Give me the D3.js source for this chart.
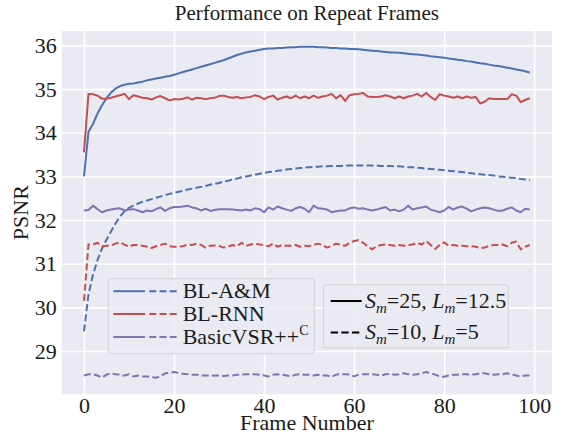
<!DOCTYPE html>
<html lang="en">
<head>
<meta charset="utf-8">
<title>Performance on Repeat Frames</title>
<script src="https://d3js.org/d3.v7.min.js"></script>
<style>
  body { margin: 0; background: #fff; }
  svg { display: block; font-family: "Liberation Serif", "Times New Roman", serif; }
  .grid line { stroke: #fff; stroke-width: 1.6; }
  .grid path { display: none; }
  .ticks text { fill: #1a1a1a; }
</style>
</head>
<body>
<script>
// frame index on the x axis
var frames = d3.range(100);

// BL-A&M
var amSolid = [33.00,34.02,34.20,34.44,34.63,34.79,34.92,35.01,35.07,35.10,
  35.12,35.13,35.15,35.17,35.20,35.22,35.24,35.26,35.28,35.30,
  35.33,35.36,35.39,35.42,35.45,35.48,35.51,35.54,35.57,35.60,
  35.63,35.66,35.70,35.74,35.78,35.81,35.84,35.86,35.88,35.90,
  35.92,35.93,35.93,35.94,35.94,35.95,35.96,35.96,35.97,35.97,
  35.97,35.97,35.96,35.96,35.95,35.94,35.94,35.93,35.93,35.92,
  35.92,35.91,35.90,35.89,35.88,35.87,35.86,35.85,35.84,35.84,
  35.83,35.82,35.81,35.80,35.79,35.78,35.77,35.75,35.74,35.73,
  35.72,35.70,35.69,35.67,35.66,35.64,35.63,35.61,35.59,35.58,
  35.56,35.54,35.53,35.51,35.49,35.47,35.45,35.43,35.41,35.38];
var amDashed = [29.45,30.30,30.75,31.08,31.35,31.55,31.74,31.92,32.08,32.20,
  32.28,32.33,32.38,32.42,32.45,32.48,32.51,32.54,32.57,32.60,
  32.62,32.65,32.67,32.70,32.72,32.74,32.76,32.78,32.81,32.83,
  32.85,32.88,32.90,32.93,32.95,32.98,33.00,33.02,33.04,33.06,
  33.08,33.10,33.11,33.13,33.14,33.16,33.17,33.18,33.19,33.20,
  33.21,33.22,33.22,33.23,33.23,33.24,33.24,33.24,33.25,33.25,
  33.25,33.25,33.25,33.25,33.25,33.25,33.24,33.24,33.24,33.23,
  33.23,33.22,33.21,33.21,33.20,33.19,33.18,33.17,33.16,33.15,
  33.14,33.13,33.12,33.11,33.10,33.08,33.07,33.06,33.05,33.04,
  33.03,33.02,33.00,32.99,32.98,32.97,32.96,32.94,32.93,32.92];

// BL-RNN
var rnnSolid = [33.55,34.89,34.88,34.85,34.78,34.78,34.80,34.83,34.86,34.89,
  34.77,34.86,34.83,34.80,34.79,34.76,34.81,34.84,34.79,34.74,
  34.77,34.76,34.78,34.81,34.76,34.80,34.79,34.77,34.79,34.80,
  34.84,34.85,34.82,34.80,34.82,34.79,34.81,34.82,34.86,34.83,
  34.77,34.82,34.85,34.76,34.80,34.83,34.79,34.85,34.79,34.83,
  34.79,34.85,34.80,34.83,34.85,34.89,34.79,34.86,34.73,34.86,
  34.88,34.89,34.91,34.83,34.82,34.82,34.83,34.86,34.83,34.79,
  34.83,34.79,34.83,34.85,34.89,34.83,34.91,34.82,34.75,34.88,
  34.85,34.83,34.80,34.83,34.79,34.83,34.80,34.82,34.67,34.71,
  34.79,34.77,34.77,34.77,34.77,34.88,34.85,34.70,34.75,34.79];
var rnnDashed = [30.15,31.44,31.44,31.48,31.40,31.41,31.42,31.46,31.49,31.44,
  31.39,31.43,31.43,31.41,31.39,31.36,31.40,31.43,31.46,31.40,
  31.39,31.39,31.40,31.44,31.43,31.46,31.43,31.37,31.41,31.42,
  31.41,31.37,31.39,31.43,31.40,31.48,31.41,31.44,31.46,31.44,
  31.43,31.40,31.46,31.39,31.43,31.41,31.41,31.43,31.39,31.41,
  31.40,31.43,31.46,31.43,31.37,31.41,31.46,31.44,31.41,31.48,
  31.52,31.54,31.48,31.40,31.33,31.40,31.43,31.44,31.43,31.41,
  31.43,31.41,31.43,31.44,31.48,31.44,31.52,31.43,31.34,31.43,
  31.49,31.41,31.43,31.41,31.41,31.40,31.40,31.39,31.36,31.37,
  31.41,31.43,31.43,31.44,31.40,31.48,31.51,31.33,31.39,31.43];

// BasicVSR++ (C)
var vsrSolid = [32.22,32.23,32.33,32.25,32.18,32.22,32.24,32.26,32.27,32.22,
  32.24,32.25,32.22,32.18,32.22,32.20,32.25,32.29,32.21,32.27,
  32.30,32.30,32.31,32.33,32.29,32.27,32.22,32.26,32.21,32.23,
  32.25,32.25,32.25,32.24,32.23,32.22,32.24,32.22,32.27,32.25,
  32.18,32.29,32.24,32.31,32.27,32.24,32.21,32.27,32.30,32.26,
  32.18,32.33,32.27,32.26,32.24,32.18,32.20,32.22,32.22,32.27,
  32.29,32.26,32.27,32.24,32.22,32.24,32.27,32.30,32.22,32.24,
  32.20,32.24,32.33,32.24,32.27,32.29,32.31,32.24,32.21,32.18,
  32.22,32.30,32.24,32.29,32.31,32.26,32.20,32.24,32.27,32.29,
  32.27,32.24,32.21,32.22,32.26,32.29,32.22,32.18,32.26,32.24];
var vsrDashed = [28.44,28.47,28.47,28.44,28.39,28.46,28.49,28.47,28.46,28.44,
  28.47,28.42,28.44,28.42,28.42,28.40,28.39,28.42,28.49,28.50,
  28.52,28.50,28.48,28.47,28.46,28.46,28.44,28.44,28.44,28.44,
  28.44,28.43,28.44,28.44,28.46,28.46,28.47,28.47,28.47,28.46,
  28.44,28.42,28.46,28.47,28.46,28.44,28.42,28.46,28.47,28.46,
  28.46,28.44,28.46,28.44,28.44,28.41,28.46,28.47,28.47,28.46,
  28.42,28.46,28.47,28.47,28.47,28.46,28.44,28.47,28.48,28.46,
  28.47,28.49,28.47,28.46,28.47,28.49,28.52,28.49,28.46,28.42,
  28.41,28.44,28.46,28.46,28.47,28.47,28.46,28.47,28.49,28.49,
  28.47,28.46,28.47,28.47,28.49,28.47,28.44,28.42,28.44,28.44];

var xTicks = [0, 20, 40, 60, 80, 100];
var yTicks = [29, 30, 31, 32, 33, 34, 35, 36];
var methodNames = ["BL-A&M", "BL-RNN", "BasicVSR++"];
var methodColors = ["#4C72B0", "#C44E52", "#8172B2"];

var W = 564, H = 433;
var plot = {left: 61.7, right: 552, top: 31, bottom: 394.3};
var dash = "7,3.2";

var svg = d3.select("body").append("svg")
  .attr("width", W)
  .attr("height", H);

var x = d3.scaleLinear().domain([-4.95, 103.95]).range([plot.left, plot.right]);
var y = d3.scaleLinear().domain([28.01, 36.33]).range([plot.bottom, plot.top]);

// plot background
svg.append("rect")
  .attr("x", plot.left)
  .attr("y", plot.top)
  .attr("width", plot.right - plot.left)
  .attr("height", plot.bottom - plot.top)
  .attr("fill", "#EAEAF2");

// white grid
svg.append("g")
  .attr("class", "grid")
  .attr("transform", "translate(0," + plot.bottom + ")")
  .call(d3.axisBottom(x).tickValues(xTicks).tickSize(-(plot.bottom - plot.top)).tickFormat(""));
svg.append("g")
  .attr("class", "grid")
  .attr("transform", "translate(" + plot.left + ",0)")
  .call(d3.axisLeft(y).tickValues(yTicks).tickSize(-(plot.right - plot.left)).tickFormat(""));

// tick labels
svg.append("g")
  .attr("class", "ticks")
  .attr("transform", "translate(0," + plot.bottom + ")")
  .call(d3.axisBottom(x).tickValues(xTicks).tickSize(0).tickPadding(3.5))
  .call(function(g) { g.select(".domain").remove(); })
  .attr("font-size", 22)
  .attr("font-family", null);
svg.append("g")
  .attr("class", "ticks")
  .attr("transform", "translate(" + plot.left + ",0)")
  .call(d3.axisLeft(y).tickValues(yTicks).tickSize(0).tickPadding(5))
  .call(function(g) { g.select(".domain").remove(); })
  .attr("font-size", 22)
  .attr("font-family", null);

// the lines
var series = [
  {vals: amSolid, color: methodColors[0], dashed: false},
  {vals: amDashed, color: methodColors[0], dashed: true},
  {vals: rnnSolid, color: methodColors[1], dashed: false},
  {vals: rnnDashed, color: methodColors[1], dashed: true},
  {vals: vsrSolid, color: methodColors[2], dashed: false},
  {vals: vsrDashed, color: methodColors[2], dashed: true}
];

var line = d3.line()
  .x(function(d, i) { return x(frames[i]); })
  .y(function(d) { return y(d); });

svg.append("g").selectAll("path")
  .data(series)
  .enter()
  .append("path")
  .attr("d", function(d) { return line(d.vals); })
  .attr("fill", "none")
  .attr("stroke", function(d) { return d.color; })
  .attr("stroke-width", 2)
  .attr("stroke-linejoin", "round")
  .attr("stroke-dasharray", function(d) { return d.dashed ? dash : null; });

// titles
svg.append("text")
  .attr("x", (plot.left + plot.right) / 2)
  .attr("y", 20)
  .attr("text-anchor", "middle")
  .attr("font-size", 21)
  .attr("fill", "#1a1a1a")
  .text("Performance on Repeat Frames");

svg.append("text")
  .attr("x", (plot.left + plot.right) / 2)
  .attr("y", 430)
  .attr("text-anchor", "middle")
  .attr("font-size", 22)
  .attr("fill", "#1a1a1a")
  .text("Frame Number");

svg.append("text")
  .attr("transform", "translate(28," + (plot.top + plot.bottom) / 2 + ") rotate(-90)")
  .attr("text-anchor", "middle")
  .attr("font-size", 22)
  .attr("fill", "#1a1a1a")
  .text("PSNR");

// legend of methods
var leg1 = svg.append("g");
leg1.append("rect")
  .attr("x", 108.3).attr("y", 278.7)
  .attr("width", 206).attr("height", 75)
  .attr("rx", 3)
  .attr("fill", "#EAEAF2").attr("fill-opacity", 0.8)
  .attr("stroke", "#cccccc").attr("stroke-opacity", 0.8);

var rows1 = [297.7, 320.5, 343.5];
methodNames.forEach(function(name, i) {
  var ly = rows1[i] - 6.5;
  leg1.append("line")
    .attr("x1", 113.3).attr("x2", 145).attr("y1", ly).attr("y2", ly)
    .attr("stroke", methodColors[i]).attr("stroke-width", 2);
  leg1.append("line")
    .attr("x1", 149.3).attr("x2", 178.3).attr("y1", ly).attr("y2", ly)
    .attr("stroke", methodColors[i]).attr("stroke-width", 2)
    .attr("stroke-dasharray", dash);
  var t = leg1.append("text")
    .attr("x", 182.7).attr("y", rows1[i])
    .attr("font-size", 22)
    .attr("fill", "#1a1a1a")
    .text(name);
  if (i === 2) {
    t.append("tspan").attr("font-size", 14).attr("dy", -9).text("C");
  }
});

// legend of settings
var leg2 = svg.append("g");
leg2.append("rect")
  .attr("x", 323.3).attr("y", 284.7)
  .attr("width", 185).attr("height", 63.3)
  .attr("rx", 3)
  .attr("fill", "#EAEAF2").attr("fill-opacity", 0.8)
  .attr("stroke", "#cccccc").attr("stroke-opacity", 0.8);

var settings = [
  {s: "25", l: "12.5", dashed: false, base: 307.5},
  {s: "10", l: "5", dashed: true, base: 339}
];
settings.forEach(function(d) {
  var ly = d.base - 6.5;
  leg2.append("line")
    .attr("x1", 330.7).attr("x2", 361.7).attr("y1", ly).attr("y2", ly)
    .attr("stroke", "#000").attr("stroke-width", 2)
    .attr("stroke-dasharray", d.dashed ? "7.4,3.2" : null);
  var t = leg2.append("text")
    .attr("x", 365).attr("y", d.base)
    .attr("font-size", 22)
    .attr("fill", "#1a1a1a");
  t.append("tspan").attr("font-style", "italic").text("S");
  t.append("tspan").attr("font-style", "italic").attr("font-size", 15).attr("dy", 5).text("m");
  t.append("tspan").attr("dy", -5).text("=" + d.s + ", ");
  t.append("tspan").attr("font-style", "italic").text("L");
  t.append("tspan").attr("font-style", "italic").attr("font-size", 15).attr("dy", 5).text("m");
  t.append("tspan").attr("dy", -5).text("=" + d.l);
});
</script>
</body>
</html>
